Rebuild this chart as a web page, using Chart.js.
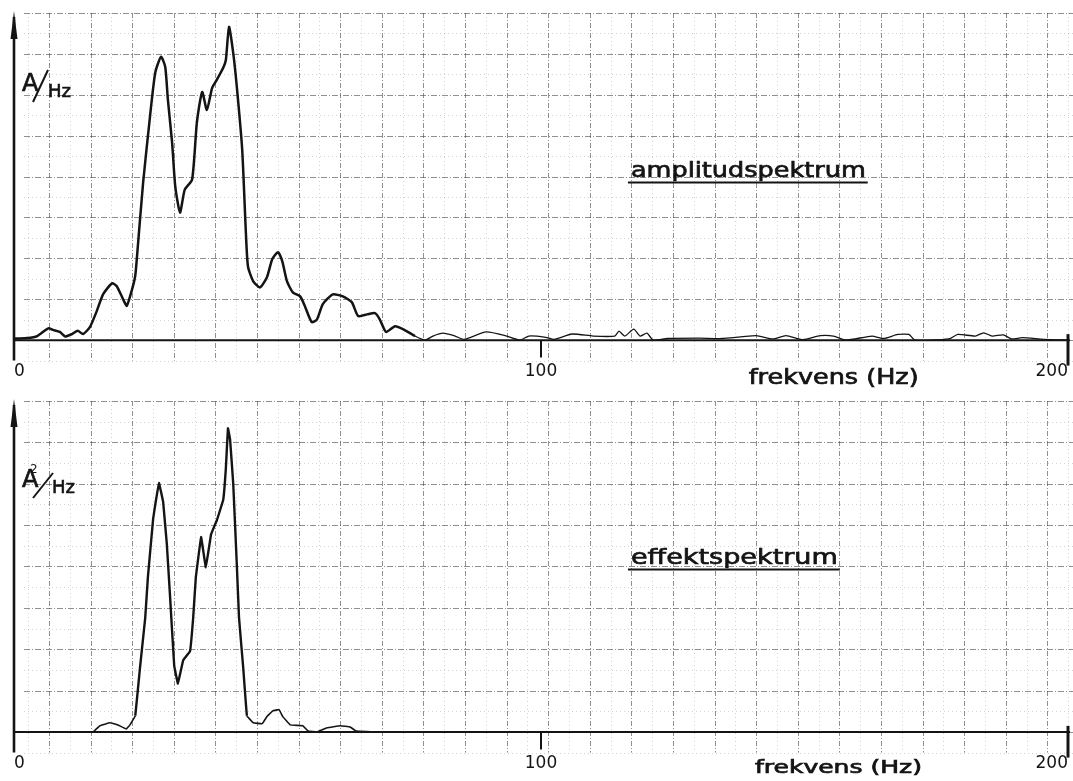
<!DOCTYPE html>
<html>
<head>
<meta charset="utf-8">
<title>frekvensspektrum</title>
<script src="https://cdn.jsdelivr.net/npm/chart.js@4.4.1/dist/chart.umd.min.js"></script>
<style>
  html, body { margin: 0; padding: 0; background: #fff; }
  .panel { position: absolute; left: 0; width: 1073px; }
  #amp-wrap { top: 0; height: 390px; }
  #eff-wrap { top: 390px; height: 391px; }
</style>
</head>
<body>
<div class="panel" id="amp-wrap"><canvas id="ampChart"></canvas></div>
<div class="panel" id="eff-wrap"><canvas id="effChart"></canvas></div>
<script>
// Frequency axis (Hz)
const xTicks = [0, 100, 200];
const xTitle = 'frekvens (Hz)';

// Amplitude spectrum, heights in grid units (one large square = 10)
const ampFreq = [
  0, 0.2, 2.5, 4.4, 6.5, 7.4, 8.7, 9.7, 11.0, 12.1, 13.1, 14.4, 15.7, 16.9, 18.6, 19.5,
  20.7, 21.4, 22.4, 23.0, 23.3, 24.5, 25.8, 26.8, 27.9, 28.7, 29.2, 30.0, 30.6, 31.5, 32.4,
  33.8, 34.7, 35.7, 36.6, 37.6, 38.5, 39.7, 40.2, 40.8, 41.6, 42.3, 43.3, 44.0, 44.4, 45.4,
  46.7, 48.0, 49.0, 50.1, 50.9, 51.8, 52.9, 54.3, 55.2, 56.5, 57.5, 58.6, 60.5, 62.4, 64.1,
  65.3, 67.0, 68.5, 69.4, 70.6, 72.3, 73.8, 76.1, 78.0, 79.5, 81.4, 83.7, 85.4, 89.6, 93.5,
  96.0, 97.7, 100.9, 102.5, 105.9, 109.9, 114.0, 114.8, 115.9, 117.6, 118.8, 120.1, 121.3,
  124.0, 130.0, 134.3, 140.8, 144.0, 146.5, 149.7, 153.0, 155.5, 157.9, 162.8, 165.0, 167.7,
  169.8, 171.0, 177.4, 179.1, 182.4, 184.0, 185.6, 187.7, 189.3, 191.3, 195.4, 200
];
const ampValues = [
  0.3, 0.4, 0.5, 1.0, 2.9, 2.5, 2.0, 0.9, 1.5, 2.3, 1.5, 3.2, 7.1, 11.2, 13.9, 13.2,
  10.0, 8.4, 12.4, 15.7, 19.8, 38.5, 54.6, 65.4, 69.3, 66.8, 58.8, 48.3, 37.6, 31.2, 36.8,
  39.3, 53.2, 60.7, 56.3, 61.7, 63.7, 66.6, 68.5, 76.6, 70.2, 61.7, 46.6, 26.3, 18.0, 14.4,
  12.9, 15.4, 19.8, 21.5, 19.3, 14.4, 11.7, 10.7, 8.3, 4.4, 5.1, 8.8, 11.2, 10.7, 9.3,
  5.9, 6.3, 6.6, 5.1, 2.0, 3.4, 2.7, 1.0, 0, 1.0, 1.7, 1.0, 0.2, 2.0, 1.0,
  0, 1.0, 0.7, 0.2, 1.5, 1.0, 1.0, 2.2, 1.0, 2.7, 1.0, 1.7, 0,
  0.4, 0.5, 0.4, 1.1, 0.3, 1.1, 0.1, 1.1, 1.0, 0, 1.0, 0.4, 1.4,
  1.4, 0, 0.3, 1.4, 1.0, 1.8, 1.0, 1.3, 0.3, 0.6, 0.2, 0
];

// Power spectrum, same grid units
const effFreq = [
  0, 15.0, 16.3, 18.2, 19.7, 21.3, 22.0, 23.0, 23.9, 24.9, 25.4, 26.4, 26.8, 27.5, 28.3,
  29.0, 29.6, 30.4, 31.1, 32.1, 33.4, 34.0, 34.5, 35.5, 36.4, 37.4, 38.5, 39.7, 40.2,
  40.6, 41.0, 41.6, 42.3, 42.7, 43.5, 44.2, 45.4, 47.1, 48.0, 49.1, 50.3, 51.0, 52.4, 54.8,
  55.8, 57.5, 59.4, 61.9, 63.8, 64.9, 68.9, 200
];
const effValues = [
  0, 0, 1.5, 2.2, 1.7, 0.7, 1.7, 3.9, 15.4, 27.6, 37.3, 51.5, 54.9, 60.2, 55.6,
  45.4, 33.0, 16.0, 11.7, 17.3, 19.5, 27.6, 37.3, 47.1, 39.8, 47.8, 51.2, 56.1, 63.7,
  73.4, 70.7, 60.0, 39.8, 27.6, 15.4, 3.9, 2.2, 2.0, 3.7, 5.1, 5.4, 3.7, 1.7, 1.5,
  0.2, 0, 1.0, 1.5, 1.2, 0.2, 0, 0
];

const FONT = '"DejaVu Sans", sans-serif';
const INK = '#141414';

// draw a word stretched sideways so it spans the given width, pen-thick
function stretchText(ctx, text, x, y, width) {
  const w = ctx.measureText(text).width;
  ctx.save();
  ctx.translate(x, y);
  ctx.scale(width / w, 1);
  ctx.lineWidth = 0.7;
  ctx.fillText(text, 0, 0);
  ctx.strokeText(text, 0, 0);
  ctx.restore();
}

// graph paper behind the curve
const graphPaper = {
  id: 'graphPaper',
  beforeDatasetsDraw(chart, args, opts) {
    const { ctx, chartArea: area, scales: { y } } = chart;
    ctx.save();
    ctx.lineWidth = 1;
    for (let k = -2; k < 60; k++) {
      const px = Math.round(area.left + opts.offset + k * opts.step / 2) + 0.5;
      if (px < area.left + 3 || px > chart.width) continue;
      const heavy = k % 2 === 0;
      ctx.strokeStyle = heavy ? 'rgba(70,70,70,0.6)' : 'rgba(110,110,110,0.3)';
      ctx.setLineDash(heavy ? [5, 2, 1, 2] : [1, 3]);
      ctx.beginPath();
      ctx.moveTo(px, area.top);
      ctx.lineTo(px, area.bottom);
      ctx.stroke();
    }
    for (let v = y.min; v <= y.max; v += 5) {
      const py = Math.round(y.getPixelForValue(v)) + 0.5;
      const heavy = v % 10 === 0;
      ctx.strokeStyle = heavy ? 'rgba(70,70,70,0.6)' : 'rgba(110,110,110,0.3)';
      ctx.setLineDash(heavy ? [6, 2, 1, 2] : [1, 3]);
      ctx.beginPath();
      ctx.moveTo(area.left + 10, py);
      ctx.lineTo(chart.width, py);
      ctx.stroke();
    }
    ctx.restore();
  }
};

// hand-ruled axes: baseline, arrowed ordinate and tick strokes
const ruledAxes = {
  id: 'ruledAxes',
  beforeDatasetsDraw(chart) {
    const { ctx, chartArea: area, scales: { x, y } } = chart;
    const y0 = y.getPixelForValue(0);
    ctx.save();
    ctx.strokeStyle = INK;
    ctx.fillStyle = INK;
    ctx.lineWidth = 2;
    ctx.beginPath();
    ctx.moveTo(area.left, y0);
    ctx.lineTo(area.right + 2, y0);
    ctx.stroke();

    ctx.lineWidth = 2.6;
    ctx.beginPath();
    ctx.moveTo(area.left, area.top + 4);
    ctx.lineTo(area.left, area.bottom);
    ctx.stroke();
    ctx.beginPath();
    ctx.moveTo(area.left, area.top - 2);
    ctx.lineTo(area.left + 3.5, area.top + 26);
    ctx.lineTo(area.left - 3.5, area.top + 26);
    ctx.closePath();
    ctx.fill();

    xTicks.slice(1).forEach((v, i, arr) => {
      const px = x.getPixelForValue(v);
      const last = i === arr.length - 1;
      ctx.lineWidth = last ? 3 : 2;
      ctx.beginPath();
      ctx.moveTo(px, last ? y0 - 6 : y0);
      ctx.lineTo(px, last ? area.bottom + 5 : area.bottom - 3);
      ctx.stroke();
    });
    ctx.restore();
  }
};

// axis title, spectrum name and unit
const notes = {
  id: 'notes',
  afterDraw(chart, args, opts) {
    const { ctx, chartArea: area, scales: { x, y } } = chart;
    ctx.save();
    ctx.fillStyle = INK;
    ctx.strokeStyle = INK;
    ctx.textBaseline = 'alphabetic';
    ctx.textAlign = 'left';

    // axis title
    ctx.font = opts.titleSize + 'px ' + FONT;
    stretchText(ctx, xTitle, x.getPixelForValue(opts.titleAt), area.bottom + opts.titleDy, opts.titleWidth);

    // underlined spectrum name
    const nx = x.getPixelForValue(opts.nameAt[0]);
    const ny = y.getPixelForValue(opts.nameAt[1]);
    const nr = x.getPixelForValue(opts.nameAt[2]);
    ctx.font = '22px ' + FONT;
    stretchText(ctx, opts.name, nx + 3, ny, nr - nx - 5);
    ctx.lineWidth = 2;
    ctx.beginPath();
    ctx.moveTo(nx, ny + 5);
    ctx.lineTo(nr, ny + 5);
    ctx.stroke();

    // unit: A/Hz or A²/Hz
    const u = opts.unit;
    const ux = area.left + 8;
    const uy = area.top + u.dy;
    ctx.lineWidth = 0.7;
    ctx.font = '24px ' + FONT;
    ctx.fillText('A', ux, uy);
    ctx.strokeText('A', ux, uy);
    if (u.sup) {
      ctx.font = '12px ' + FONT;
      ctx.fillText(u.sup, ux + 8, uy - 14);
    }
    ctx.lineWidth = 2;
    ctx.beginPath();
    ctx.moveTo(ux + 11, uy + u.slash[0]);
    ctx.lineTo(ux + 11 + u.slash[2], uy + u.slash[1]);
    ctx.stroke();
    ctx.lineWidth = 0.6;
    ctx.font = '18px ' + FONT;
    const hx = ux + 14 + u.slash[2] * 0.8;
    ctx.fillText('Hz', hx, uy + u.hzDy);
    ctx.strokeText('Hz', hx, uy + u.hzDy);
    ctx.restore();
  }
};

function drawSpectrum(canvasId, freq, values, cfg) {
  return new Chart(document.getElementById(canvasId), {
    type: 'line',
    data: {
      datasets: [{
        data: freq.map((f, i) => ({ x: f, y: values[i] })),
        borderColor: INK,
        borderWidth: 2.4,
        borderJoinStyle: 'round',
        pointRadius: 0,
        fill: false,
        tension: cfg.tension,
        segment: { borderWidth: cfg.width }
      }]
    },
    options: {
      responsive: true,
      maintainAspectRatio: false,
      animation: false,
      events: [],
      layout: { padding: { left: 14, right: 5, top: cfg.top, bottom: cfg.bottom } },
      plugins: {
        legend: { display: false },
        tooltip: { enabled: false },
        graphPaper: { step: 41.6, offset: 35 },
        notes: cfg.notes
      },
      scales: {
        x: {
          type: 'linear',
          min: 0,
          max: 200,
          afterBuildTicks: s => { s.ticks = xTicks.map(v => ({ value: v })); },
          grid: { display: false, drawTicks: false },
          border: { display: false },
          ticks: {
            align: 'inner',
            autoSkip: false,
            maxRotation: 0,
            padding: 1,
            color: INK,
            font: { family: FONT, size: 17 }
          }
        },
        y: { display: false, min: -5, max: 80 }
      }
    },
    plugins: [graphPaper, ruledAxes, notes]
  });
}

drawSpectrum('ampChart', ampFreq, ampValues, {
  top: 13,
  bottom: 7,
  tension: 0.2,
  width: c => (c.p0.parsed.x >= 76 ? 1.3 : 2.5),
  notes: {
    name: 'amplitudspektrum',
    nameAt: [116.5, 39.8, 162],
    titleAt: 139.4, titleDy: 23, titleSize: 21, titleWidth: 170,
    unit: { dy: 78, sup: '', slash: [11, -21, 15], hzDy: 6 }
  }
});

drawSpectrum('effChart', effFreq, effValues, {
  top: 11,
  bottom: 6,
  tension: 0.05,
  width: c => (Math.max(c.p0.parsed.y, c.p1.parsed.y) < 6 ? 1.6 : 2.4),
  notes: {
    name: 'effektspektrum',
    nameAt: [116.5, 40.5, 156.7],
    titleAt: 140.6, titleDy: 20, titleSize: 17, titleWidth: 167,
    unit: { dy: 86, sup: '2', slash: [11, -14, 20], hzDy: 6 }
  }
});
</script>
</body>
</html>
